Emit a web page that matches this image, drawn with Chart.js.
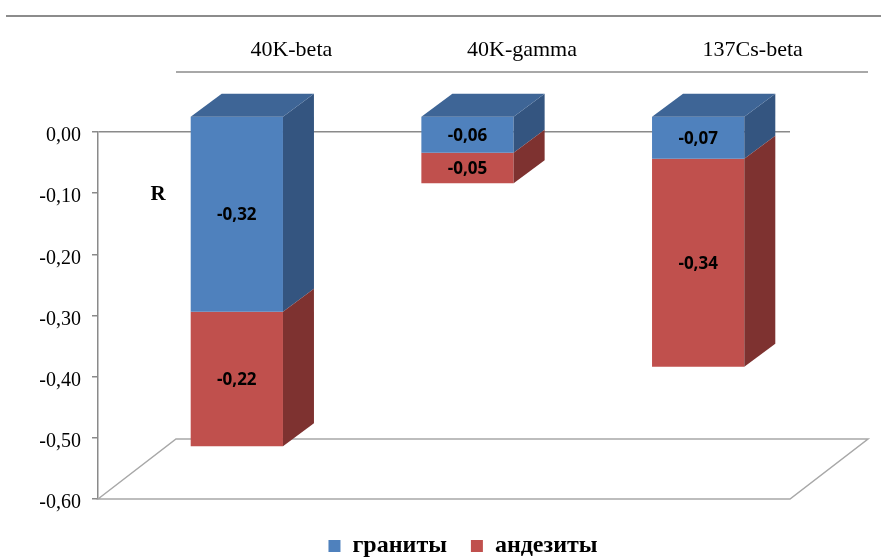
<!DOCTYPE html>
<html>
<head>
<meta charset="utf-8">
<script src="https://cdn.jsdelivr.net/npm/chart.js@4/dist/chart.umd.min.js"></script>
<style>
  html, body { margin: 0; padding: 0; background: #fff; }
  #wrap { width: 881px; height: 557px; }
</style>
</head>
<body>
<div id="wrap"><canvas id="chart" width="881" height="557"></canvas></div>
<script>
// Correlation coefficients R by counting channel
const categories = ['40K-beta', '40K-gamma', '137Cs-beta'];
const seriesNames = ['граниты', 'андезиты'];
const granites = [-0.32, -0.06, -0.07];
const andesites = [-0.22, -0.05, -0.34];
const yRange = [-0.6, 0];
const yStep = 0.1;

// Face colours: front, right side, top
const frontColors = ['#4F81BD', '#C0504D'];
const sideColors = ['#345580', '#7E3230'];
const topColors = ['#3E6596', '#9A403E'];

// Pseudo-3D projection offsets (pixels)
const FLOOR_DEPTH = { dx: 78, dy: -60 };   // front plane -> back plane
const BAR_FRONT = { dx: 23.5, dy: -16 };   // front plane -> bar front face
const BAR_DEPTH = { dx: 31, dy: -23 };     // bar front face -> bar back face

const fmt = v => v.toFixed(2).replace('.', ',');

function poly(ctx, pts, fill) {
  ctx.beginPath();
  ctx.moveTo(pts[0][0], pts[0][1]);
  for (let k = 1; k < pts.length; k++) ctx.lineTo(pts[k][0], pts[k][1]);
  ctx.closePath();
  ctx.fillStyle = fill;
  ctx.fill();
}

const box3d = {
  id: 'box3d',
  beforeDatasetsDraw(chart) {
    const { ctx, chartArea: a, scales: { x } } = chart;
    const f = FLOOR_DEPTH;
    ctx.save();
    // outer frame, top edge
    ctx.strokeStyle = '#8c8c8c';
    ctx.lineWidth = 2;
    ctx.beginPath(); ctx.moveTo(6, 16); ctx.lineTo(881, 16); ctx.stroke();
    // floor
    ctx.strokeStyle = '#a8a8a8';
    ctx.lineWidth = 1.5;
    ctx.beginPath();
    ctx.moveTo(a.left, a.bottom);
    ctx.lineTo(a.left + f.dx, a.bottom + f.dy);
    ctx.lineTo(a.right + f.dx, a.bottom + f.dy);
    ctx.lineTo(a.right, a.bottom);
    ctx.closePath();
    ctx.stroke();
    // category axis on the back plane
    const yb = a.top + f.dy;
    ctx.lineWidth = 2;
    ctx.beginPath(); ctx.moveTo(a.left + f.dx, yb); ctx.lineTo(a.right + f.dx, yb); ctx.stroke();
    ctx.fillStyle = '#000';
    ctx.font = '22px "Liberation Serif"';
    ctx.textAlign = 'center';
    ctx.textBaseline = 'alphabetic';
    categories.forEach((c, i) => ctx.fillText(c, x.getPixelForValue(i) + f.dx, yb - 16));
    // axis name
    ctx.font = 'bold 21px "Liberation Serif"';
    ctx.textBaseline = 'middle';
    ctx.fillText('R', 158, 195);
    ctx.restore();
  },
  beforeDatasetDraw(chart) {
    chart.ctx.save();
    chart.ctx.translate(BAR_FRONT.dx, BAR_FRONT.dy);
  },
  afterDatasetDraw(chart) {
    chart.ctx.restore();
  },
  afterDatasetsDraw(chart) {
    const ctx = chart.ctx;
    const F = BAR_FRONT, D = BAR_DEPTH;
    const metas = chart.data.datasets.map((d, i) => chart.getDatasetMeta(i));
    ctx.save();
    const labels = [];
    categories.forEach((c, i) => {
      let top = null;
      metas.forEach((m, di) => {
        const el = m.data[i];
        const { x, y, base, width } = el.getProps(['x', 'y', 'base', 'width'], true);
        const L = x - width / 2 + F.dx, R = x + width / 2 + F.dx;
        const T = Math.min(y, base) + F.dy, B = Math.max(y, base) + F.dy;
        poly(ctx, [[R, T], [R + D.dx, T + D.dy], [R + D.dx, B + D.dy], [R, B]], sideColors[di]);
        if (!top || T < top.T) top = { L, R, T, di };
        labels.push({ x: x + F.dx, y: (T + B) / 2 + 1, v: chart.data.datasets[di].data[i] });
      });
      poly(ctx, [[top.L, top.T], [top.L + D.dx, top.T + D.dy], [top.R + D.dx, top.T + D.dy], [top.R, top.T]], topColors[top.di]);
    });
    ctx.fillStyle = '#000';
    ctx.font = 'bold 17px "Open Sans"';
    ctx.textAlign = 'center';
    ctx.textBaseline = 'middle';
    labels.forEach(l => ctx.fillText(fmt(l.v), l.x, l.y));
    ctx.restore();
  }
};

new Chart(document.getElementById('chart'), {
  type: 'bar',
  data: {
    labels: categories,
    datasets: [
      { label: seriesNames[0], data: granites, backgroundColor: frontColors[0] },
      { label: seriesNames[1], data: andesites, backgroundColor: frontColors[1] }
    ]
  },
  options: {
    responsive: false,
    animation: false,
    layout: { padding: { left: 30, right: -15, top: 132, bottom: -11 } },
    datasets: { bar: { categoryPercentage: 1, barPercentage: 0.4, borderWidth: 0, clip: false } },
    scales: {
      x: {
        stacked: true,
        ticks: { display: false },
        grid: { display: false },
        border: { display: false },
        afterFit: s => { s.height = 11; }
      },
      y: {
        stacked: true,
        position: 'left',
        min: yRange[0],
        max: yRange[1],
        afterFit: s => { s.width = 68; },
        ticks: {
          stepSize: yStep,
          padding: 11,
          labelOffset: 4,
          color: '#000',
          font: { family: 'Liberation Serif', size: 20 },
          callback: v => fmt(v)
        },
        grid: {
          color: c => (c.tick && Math.abs(c.tick.value) < 1e-9) ? '#8a8a8a' : 'rgba(0,0,0,0)',
          lineWidth: 1.5,
          tickColor: '#8a8a8a',
          tickLength: 6
        },
        border: { display: true, color: '#8a8a8a', width: 1.5 }
      },
      yPad: {
        position: 'right',
        ticks: { display: false },
        grid: { display: false },
        border: { display: false },
        afterFit: s => { s.width = 106; }
      }
    },
    plugins: {
      legend: {
        position: 'bottom',
        labels: {
          boxWidth: 12,
          boxHeight: 12,
          padding: 24,
          color: '#000',
          font: { family: 'Liberation Serif', size: 24, weight: 'bold' }
        }
      },
      tooltip: { enabled: false }
    }
  },
  plugins: [box3d]
});
</script>
</body>
</html>
